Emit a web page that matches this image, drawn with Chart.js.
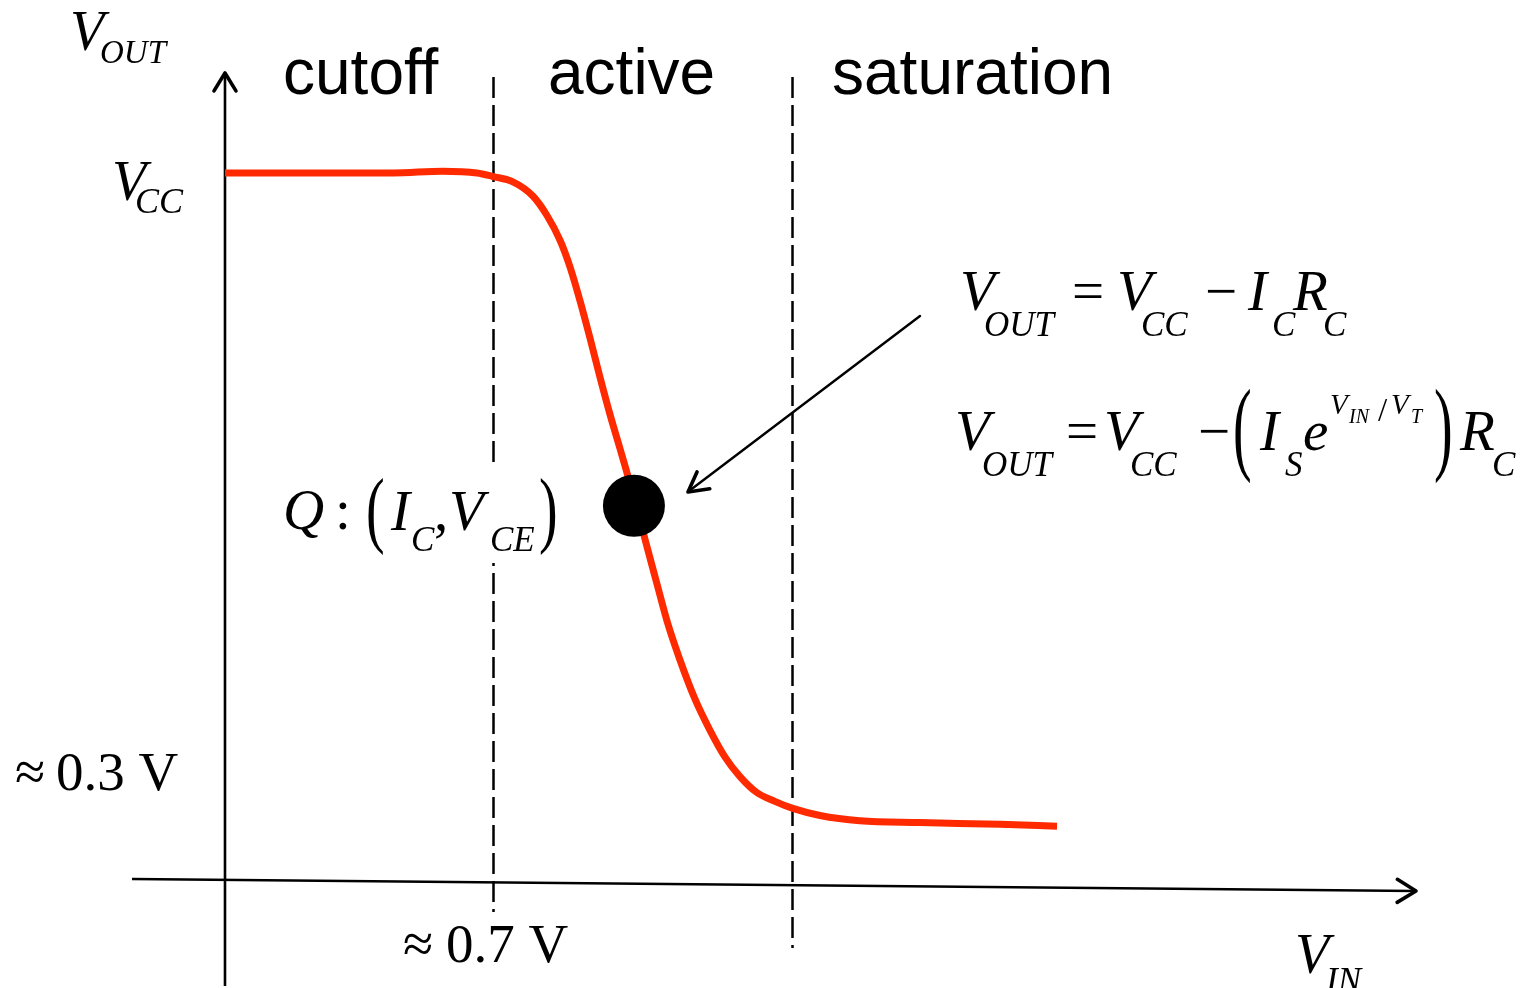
<!DOCTYPE html>
<html>
<head>
<meta charset="utf-8">
<title>BJT inverter transfer characteristic</title>
<script src="https://cdn.jsdelivr.net/npm/chart.js@4/dist/chart.umd.min.js"></script>
<style>
  html, body { margin: 0; padding: 0; background: #ffffff; }
  #wrap { width: 1526px; height: 988px; }
</style>
</head>
<body>
<div id="wrap"><canvas id="chart" width="1526" height="988"></canvas></div>
<script>
// Transfer curve: input voltage (V) and output voltage (V)
const vIn  = [0, 0.196, 0.439, 0.569, 0.658, 0.700, 0.752, 0.804, 0.841, 0.875, 0.901, 0.927, 0.953, 0.979, 1.005, 1.032, 1.052, 1.076, 1.097, 1.128, 1.157, 1.188, 1.227, 1.267, 1.306, 1.345, 1.389, 1.436, 1.483, 1.554, 1.658, 1.815, 2.024, 2.173];
const vOut = [4.00, 4.00, 4.00, 4.01, 4.00, 3.98, 3.95, 3.87, 3.76, 3.62, 3.47, 3.28, 3.07, 2.85, 2.64, 2.44, 2.29, 2.11, 1.93, 1.68, 1.45, 1.25, 1.03, 0.85, 0.70, 0.59, 0.50, 0.45, 0.41, 0.37, 0.34, 0.33, 0.32, 0.31];

// Quiescent operating point Q
const qIn  = [1.068];
const qOut = [2.12];

// Region boundaries on the input axis and their names
const regionEdges = [0.70, 1.48];
const regionNames = ['cutoff', 'active', 'saturation'];

// Axis labels
const yTickLabels = ['V_CC', '≈ 0.3 V'];
const xTickLabels = ['≈ 0.7 V'];

const curvePoints = vIn.map((x, i) => ({ x, y: vOut[i] }));
const qPoints = qIn.map((x, i) => ({ x, y: qOut[i] }));

const SERIF = '"Liberation Serif", "Times New Roman", Times, serif';
const SANS = '"Liberation Sans", Arial, Helvetica, sans-serif';
const RED = '#ff2a00';

function setFont(ctx, size, italic, family) {
  ctx.font = (italic ? 'italic ' : '') + size + 'px ' + (family || SERIF);
}

// draw a list of text pieces {t, x, y, s, it, fam}
function pieces(ctx, list) {
  ctx.textBaseline = 'alphabetic';
  ctx.textAlign = 'left';
  for (const p of list) {
    setFont(ctx, p.s, p.it, p.fam);
    ctx.fillText(p.t, p.x, p.y);
  }
}

// tall bracket stretched vertically between top and bottom
function bracket(ctx, ch, x, top, bottom, size) {
  const sy = (bottom - top) / (0.89 * size);
  ctx.save();
  setFont(ctx, size, false);
  ctx.textBaseline = 'alphabetic';
  ctx.translate(x, top + 0.69 * size * sy);
  ctx.scale(1, sy);
  ctx.fillText(ch, 0, 0);
  ctx.restore();
}

function chevron(ctx, tipX, tipY, fromX, fromY, len, spread) {
  const a = Math.atan2(fromY - tipY, fromX - tipX);
  ctx.beginPath();
  ctx.moveTo(tipX + len * Math.cos(a + spread), tipY + len * Math.sin(a + spread));
  ctx.lineTo(tipX, tipY);
  ctx.lineTo(tipX + len * Math.cos(a - spread), tipY + len * Math.sin(a - spread));
  ctx.stroke();
}

// dashed boundary segments (top, bottom) in pixels, one list per boundary
const boundarySpans = [
  [[77, 463], [563, 912]],
  [[77, 948]]
];

const diagramPlugin = {
  id: 'diagram',
  beforeDatasetsDraw(chart) {
    const { ctx, scales: { x, y } } = chart;
    ctx.save();
    ctx.strokeStyle = '#000';
    ctx.lineCap = 'butt';

    // region boundaries (dashed)
    ctx.lineWidth = 2.5;
    ctx.setLineDash([21, 7]);
    regionEdges.forEach((e, i) => {
      const px = Math.round(x.getPixelForValue(e)) + 0.5;
      for (const [top, bottom] of boundarySpans[i]) {
        ctx.lineDashOffset = -(top - 77);
        ctx.beginPath();
        ctx.moveTo(px, top);
        ctx.lineTo(px, bottom);
        ctx.stroke();
      }
    });
    ctx.setLineDash([]);
    ctx.lineDashOffset = 0;

    // vertical axis
    const x0 = x.getPixelForValue(0);
    ctx.lineWidth = 2.6;
    ctx.beginPath();
    ctx.moveTo(x0, 986);
    ctx.lineTo(x0, 74);
    ctx.stroke();

    // horizontal axis (hand-drawn slight slope)
    const y0 = y.getPixelForValue(0);
    ctx.beginPath();
    ctx.moveTo(132, y0 - 2);
    ctx.lineTo(1415, y0 + 10);
    ctx.stroke();

    ctx.lineWidth = 3.6;
    ctx.lineCap = 'round';
    ctx.lineJoin = 'round';
    chevron(ctx, x0, 73, x0, 200, 21, 0.55);
    chevron(ctx, 1416, y0 + 10, 1300, y0 + 9, 22, 0.55);
    ctx.restore();
  },
  afterDatasetsDraw(chart) {
    const { ctx } = chart;
    ctx.save();
    ctx.fillStyle = '#000';
    ctx.strokeStyle = '#000';

    // pointer to the operating point
    ctx.lineWidth = 2.4;
    ctx.lineCap = 'round';
    ctx.beginPath();
    ctx.moveTo(920, 316);
    ctx.lineTo(689, 491);
    ctx.stroke();
    ctx.lineWidth = 3.6;
    ctx.lineJoin = 'round';
    chevron(ctx, 688, 492, 920, 316, 22, 0.5);

    // region names
    const rx = [283, 548, 832];
    setFont(ctx, 64, false, SANS);
    ctx.textBaseline = 'alphabetic';
    regionNames.forEach((n, i) => ctx.fillText(n, rx[i], 94));

    // axis titles and tick labels
    pieces(ctx, [
      { t: 'V', x: 70, y: 50, s: 56, it: true },
      { t: 'OUT', x: 100, y: 63, s: 33, it: true },
      { t: yTickLabels[0].split('_')[0], x: 112, y: 200, s: 56, it: true },
      { t: yTickLabels[0].split('_')[1], x: 135, y: 213, s: 36, it: true },
      { t: yTickLabels[1].split(' ')[0], x: 15, y: 790, s: 55 },
      { t: yTickLabels[1].split(' ').slice(1).join(' '), x: 56, y: 790, s: 55 },
      { t: xTickLabels[0].split(' ')[0], x: 403, y: 962, s: 55 },
      { t: xTickLabels[0].split(' ').slice(1).join(' '), x: 446, y: 962, s: 55 },
      { t: 'V', x: 1295, y: 973, s: 56, it: true },
      { t: 'IN', x: 1326, y: 992, s: 35, it: true }
    ]);

    // V_OUT = V_CC − I_C R_C
    pieces(ctx, [
      { t: 'V', x: 960, y: 310, s: 57, it: true },
      { t: 'OUT', x: 984, y: 336, s: 35, it: true },
      { t: '=', x: 1072, y: 310, s: 57 },
      { t: 'V', x: 1117, y: 310, s: 57, it: true },
      { t: 'CC', x: 1141, y: 336, s: 35, it: true },
      { t: '\u2212', x: 1205, y: 310, s: 57 },
      { t: 'I', x: 1248, y: 310, s: 57, it: true },
      { t: 'C', x: 1272, y: 336, s: 35, it: true },
      { t: 'R', x: 1293, y: 310, s: 57, it: true },
      { t: 'C', x: 1323, y: 336, s: 35, it: true }
    ]);

    // V_OUT = V_CC − (I_S e^{V_IN/V_T}) R_C
    pieces(ctx, [
      { t: 'V', x: 955, y: 450, s: 57, it: true },
      { t: 'OUT', x: 982, y: 476, s: 35, it: true },
      { t: '=', x: 1066, y: 450, s: 57 },
      { t: 'V', x: 1104, y: 450, s: 57, it: true },
      { t: 'CC', x: 1130, y: 476, s: 35, it: true },
      { t: '\u2212', x: 1198, y: 450, s: 57 },
      { t: 'I', x: 1260, y: 450, s: 57, it: true },
      { t: 'S', x: 1285, y: 476, s: 35, it: true },
      { t: 'e', x: 1303, y: 450, s: 57, it: true },
      { t: 'V', x: 1330, y: 414, s: 29, it: true },
      { t: 'IN', x: 1349, y: 423, s: 20, it: true },
      { t: '/', x: 1378, y: 421, s: 33 },
      { t: 'V', x: 1391, y: 414, s: 29, it: true },
      { t: 'T', x: 1411, y: 423, s: 20, it: true },
      { t: 'R', x: 1460, y: 450, s: 57, it: true },
      { t: 'C', x: 1492, y: 476, s: 35, it: true }
    ]);
    bracket(ctx, '(', 1233, 390, 482, 56);
    bracket(ctx, ')', 1434, 390, 482, 56);

    // Q : (I_C, V_CE)
    pieces(ctx, [
      { t: 'Q', x: 283, y: 529, s: 57, it: true },
      { t: ':', x: 335, y: 529, s: 57 },
      { t: 'I', x: 391, y: 530, s: 57, it: true },
      { t: 'C', x: 411, y: 551, s: 35, it: true },
      { t: ',', x: 434, y: 530, s: 57 },
      { t: 'V', x: 449, y: 530, s: 57, it: true },
      { t: 'CE', x: 490, y: 551, s: 35, it: true }
    ]);
    bracket(ctx, '(', 366, 478, 554, 56);
    bracket(ctx, ')', 539, 478, 554, 56);

    ctx.restore();
  }
};

new Chart(document.getElementById('chart'), {
  type: 'scatter',
  data: {
    datasets: [
      {
        label: 'Q',
        data: qPoints,
        pointRadius: 31,
        pointBackgroundColor: '#000',
        pointBorderWidth: 0,
        showLine: false,
        clip: false
      },
      {
        label: 'V_OUT',
        data: curvePoints,
        showLine: true,
        borderColor: RED,
        borderWidth: 7,
        pointRadius: 0,
        cubicInterpolationMode: 'monotone',
        fill: false,
        clip: false
      }
    ]
  },
  options: {
    responsive: false,
    animation: false,
    events: [],
    layout: { padding: 0, autoPadding: false },
    plugins: { legend: { display: false }, tooltip: { enabled: false } },
    scales: {
      x: { type: 'linear', min: -0.5876, max: 3.3978, display: false },
      y: { type: 'linear', min: -0.6045, max: 4.9774, display: false }
    }
  },
  plugins: [diagramPlugin]
});
</script>
</body>
</html>
